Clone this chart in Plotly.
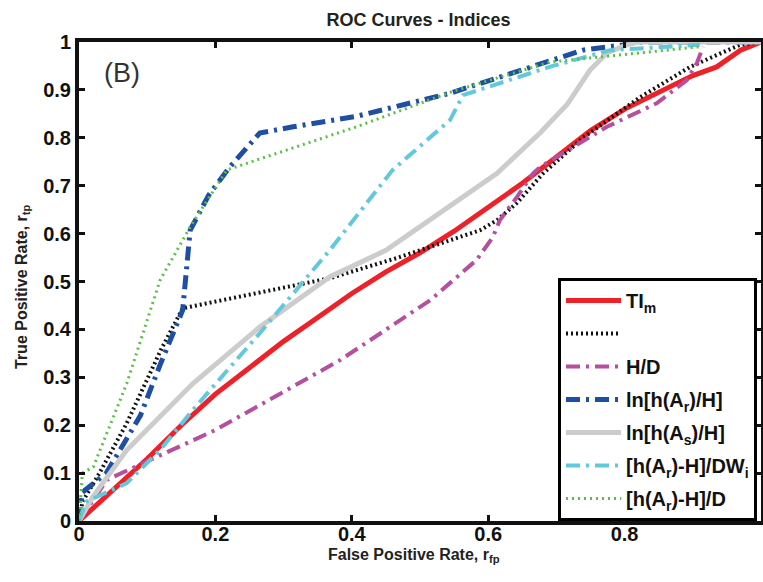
import plotly.graph_objects as go

# ---- data ----
ti_x = [0, 0.05, 0.1, 0.15, 0.2, 0.25, 0.3, 0.35, 0.4, 0.45, 0.5, 0.55, 0.6, 0.65, 0.7, 0.75, 0.8, 0.85, 0.9, 0.935, 0.97, 1.0]
ti_y = [0, 0.065, 0.13, 0.2, 0.265, 0.32, 0.375, 0.425, 0.475, 0.52, 0.56, 0.605, 0.655, 0.705, 0.76, 0.815, 0.86, 0.895, 0.93, 0.948, 0.983, 1.0]

blk_x = [0, 0.005, 0.03, 0.07, 0.12, 0.152, 0.368, 0.466, 0.588, 0.613, 0.642, 0.68, 0.739, 0.823, 0.896, 0.969, 1.0]
blk_y = [0, 0.04, 0.1, 0.204, 0.357, 0.444, 0.507, 0.549, 0.607, 0.628, 0.664, 0.725, 0.80, 0.885, 0.948, 0.994, 1.0]

hd_x = [0, 0.041, 0.2, 0.383, 0.515, 0.583, 0.607, 0.617, 0.642, 0.666, 0.676, 0.774, 0.847, 0.891, 0.906, 0.915]
hd_y = [0, 0.086, 0.19, 0.336, 0.461, 0.545, 0.593, 0.628, 0.676, 0.726, 0.739, 0.823, 0.872, 0.92, 0.956, 0.99]

lnar_x = [0, 0.005, 0.04, 0.09, 0.12, 0.152, 0.163, 0.19, 0.221, 0.265, 0.314, 0.407, 0.544, 0.671, 0.739, 0.798, 0.81, 1.0]
lnar_y = [0, 0.06, 0.1, 0.22, 0.33, 0.44, 0.607, 0.68, 0.739, 0.81, 0.823, 0.845, 0.893, 0.952, 0.983, 0.994, 1.0, 1.0]

lnas_x = [0, 0.02, 0.07, 0.167, 0.265, 0.368, 0.45, 0.515, 0.613, 0.676, 0.716, 0.749, 0.774, 0.803, 0.82, 1.0]
lnas_y = [0, 0.05, 0.148, 0.287, 0.405, 0.51, 0.565, 0.628, 0.726, 0.81, 0.87, 0.941, 0.977, 0.994, 1.0, 1.0]

dwi_x = [0, 0.01, 0.07, 0.12, 0.167, 0.265, 0.368, 0.46, 0.544, 0.563, 0.69, 0.779, 0.91]
dwi_y = [0, 0.04, 0.079, 0.15, 0.232, 0.392, 0.566, 0.733, 0.837, 0.889, 0.948, 0.983, 0.994]

d_x = [0, 0.005, 0.021, 0.07, 0.119, 0.163, 0.217, 0.246, 0.407, 0.544, 0.69, 0.91]
d_y = [0, 0.1, 0.113, 0.287, 0.503, 0.614, 0.733, 0.747, 0.823, 0.895, 0.958, 0.99]

names = ["TI<sub>m</sub>", " ", "H/D", "ln[h(A<sub>r</sub>)/H]", "ln[h(A<sub>s</sub>)/H]",
         "[h(A<sub>r</sub>)-H]/DW<sub>i</sub>", "[h(A<sub>r</sub>)-H]/D"]
xticks = [0, 0.2, 0.4, 0.6, 0.8, 1.0]
xticktext = ["0", "0.2", "0.4", "0.6", "0.8", "1"]
yticks = [0, 0.1, 0.2, 0.3, 0.4, 0.5, 0.6, 0.7, 0.8, 0.9, 1.0]
yticktext = ["0", "0.1", "0.2", "0.3", "0.4", "0.5", "0.6", "0.7", "0.8", "0.9", "1"]

dashdot = "14px,6px,3px,6px"
series = [
    (ti_x, ti_y, dict(color="#EE2128", width=5, dash="solid")),
    (blk_x, blk_y, dict(color="#111111", width=4, dash="2px,3px")),
    (hd_x, hd_y, dict(color="#B64FA0", width=4, dash=dashdot)),
    (lnar_x, lnar_y, dict(color="#1F4FA3", width=5, dash=dashdot)),
    (lnas_x, lnas_y, dict(color="#CCCCCC", width=5, dash="solid")),
    (dwi_x, dwi_y, dict(color="#62C8DC", width=4, dash=dashdot)),
    (d_x, d_y, dict(color="#5BBF46", width=3, dash="2px,4px")),
]

fig = go.Figure()
for i, ((xs, ys, ln), nm) in enumerate(zip(series, names)):
    fig.add_trace(go.Scatter(x=xs, y=ys, mode="lines", name="<b>%s</b>" % nm, line=ln,
                             legendgroup="g%d" % i))

FONT = "Liberation Sans, Arial"
L, R, T, B = 79, 2, 42, 61
PW, PH = 763 - L - R, 582 - T - B

fig.update_layout(
    width=763, height=582,
    margin=dict(l=L, r=R, t=T, b=B, autoexpand=False),
    paper_bgcolor="white", plot_bgcolor="white",
    font=dict(family=FONT, color="black"),
    title=dict(text="<b>ROC Curves - Indices</b>", x=418.5 / 763, xanchor="center",
               y=1 - 20 / 582, yanchor="middle", font=dict(size=18, color="#222222")),
    showlegend=True,
    legend=dict(x=(757 - L) / PW, y=0.0, xanchor="right", yanchor="bottom",
                bgcolor="white", bordercolor="black", borderwidth=3,
                font=dict(size=20, color="#111111"), tracegroupgap=4, itemwidth=55),
    annotations=[
        dict(text="(B)", x=(102 - L) / PW, y=(521 - 73) / PH, xref="paper", yref="paper",
             xanchor="left", yanchor="middle", showarrow=False,
             font=dict(size=27, color="#333333")),
        dict(text="<b>False Positive Rate, r<sub>fp</sub></b>", x=(414 - L) / PW, y=(521 - 555) / PH,
             xref="paper", yref="paper", xanchor="center", yanchor="middle", showarrow=False,
             font=dict(size=16, color="#222222")),
        dict(text="<b>True Positive Rate, r<sub>tp</sub></b>", x=(22 - L) / PW, y=(521 - 287) / PH,
             xref="paper", yref="paper", xanchor="center", yanchor="middle", showarrow=False,
             textangle=-90, font=dict(size=16, color="#222222")),
    ],
)
fig.update_xaxes(range=[0, 1], tickvals=xticks, ticktext=["<b>%s</b>" % t for t in xticktext],
                 showline=True, linewidth=4, linecolor="#111111", mirror="ticks",
                 ticks="inside", ticklen=6, tickwidth=3, tickcolor="#111111",
                 showgrid=False, zeroline=False, automargin=False, ticklabelstandoff=-8,
                 tickfont=dict(size=20, family=FONT, color="#111111"))
fig.update_yaxes(range=[0, 1], tickvals=yticks, ticktext=["<b>%s</b>" % t for t in yticktext],
                 showline=True, linewidth=4, linecolor="#111111", mirror="ticks",
                 ticks="inside", ticklen=6, tickwidth=3, tickcolor="#111111",
                 showgrid=False, zeroline=False, automargin=False,
                 tickfont=dict(size=20, family=FONT, color="#111111"))

fig.write_html("out.html", config={"displayModeBar": False},
               post_script="document.body.style.margin='0';document.body.style.overflow='hidden';")
